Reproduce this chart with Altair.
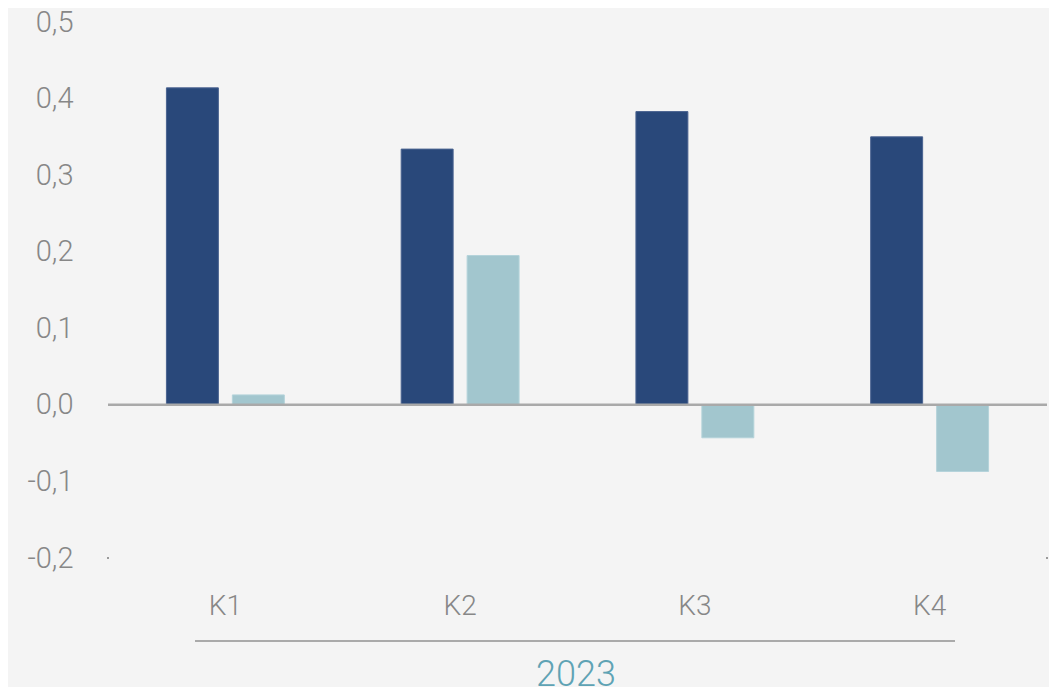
import altair as alt
import pandas as pd

quarters = ["K1", "K2", "K3", "K4"]
series = ["A", "B"]
values_a = [0.414, 0.334, 0.383, 0.350]
values_b = [0.013, 0.195, -0.043, -0.087]
y_ticks = [-0.2, -0.1, 0.0, 0.1, 0.2, 0.3, 0.4, 0.5]
group_label = "2023"

rows = []
for q, a, b in zip(quarters, values_a, values_b):
    rows.append({"q": q, "s": "A", "v": a})
    rows.append({"q": q, "s": "B", "v": b})
df = pd.DataFrame(rows)

W, H = 939, 536
FONT = "Roboto"
GRAY = "#878787"

x_enc = alt.X("q:N", sort=quarters, title=None,
              scale=alt.Scale(paddingInner=0, paddingOuter=0),
              axis=alt.Axis(domain=False, ticks=False, labelAngle=0,
                            labelFontSize=28, labelColor=GRAY, labelFont=FONT,
                            labelFontWeight=300, labelPadding=34, grid=False))
y_scale = alt.Scale(domain=[-0.2, 0.5], nice=False, zero=False)

bars = alt.Chart(df).mark_bar(strokeWidth=1).encode(
    x=x_enc,
    xOffset=alt.XOffset("s:N", sort=series,
                        scale=alt.Scale(paddingInner=0.212, paddingOuter=0.886)),
    y=alt.Y("v:Q", scale=y_scale, title=None,
            axis=alt.Axis(values=y_ticks, domain=False, ticks=False, grid=False,
                          labelFontSize=29, labelColor=GRAY, labelFont=FONT,
                          labelFontWeight=300, labelPadding=35,
                          labelExpr="(datum.value < -0.0001 ? '-' : '') + replace(format(abs(datum.value), '.1f'), '.', ',')")),
    color=alt.Color("s:N", sort=series, legend=None,
                    scale=alt.Scale(domain=series, range=["#29487a", "#a2c6ce"])),
    stroke=alt.Stroke("s:N", sort=series, legend=None,
                      scale=alt.Scale(domain=series, range=["#4a6390", "#b4d3da"])),
)

zero_df = pd.DataFrame({"y": [0.0]})
zero_line = alt.Chart(zero_df).mark_rule(color="#a9a9a9", strokeWidth=2.5).encode(
    y=alt.Y("y:Q", scale=y_scale),
    x=alt.value(0), x2=alt.value(W),
)

dots_df = pd.DataFrame({"y": [-0.2, -0.2], "px": [0, W]})
dots = alt.Chart(dots_df).mark_square(size=4, color="#9a9a9a", opacity=1).encode(
    y=alt.Y("y:Q", scale=y_scale),
    x=alt.X("px:Q", scale=None),
)

grp_df = pd.DataFrame({"label": [group_label]})
grp_line = alt.Chart(grp_df).mark_rule(color="#aaaaaa", strokeWidth=2).encode(
    x=alt.value(87), x2=alt.value(847), y=alt.value(619),
)
grp_text = alt.Chart(grp_df).mark_text(
    font=FONT, fontSize=36, fontWeight=300, color="#5fa3b4",
    baseline="alphabetic", align="center",
).encode(
    text="label:N", x=alt.value(468), y=alt.value(664),
)

chart = alt.layer(bars, zero_line, dots, grp_line, grp_text).properties(
    width=W, height=H,
    autosize=alt.AutoSizeParams(type="none"),
    padding={"left": 100, "top": 14, "right": 2, "bottom": 129},
    background="#f4f4f4",
).configure_view(stroke=None, fill="#f4f4f4")

chart.save("out.html", embed_options={"renderer": "svg", "actions": False})
